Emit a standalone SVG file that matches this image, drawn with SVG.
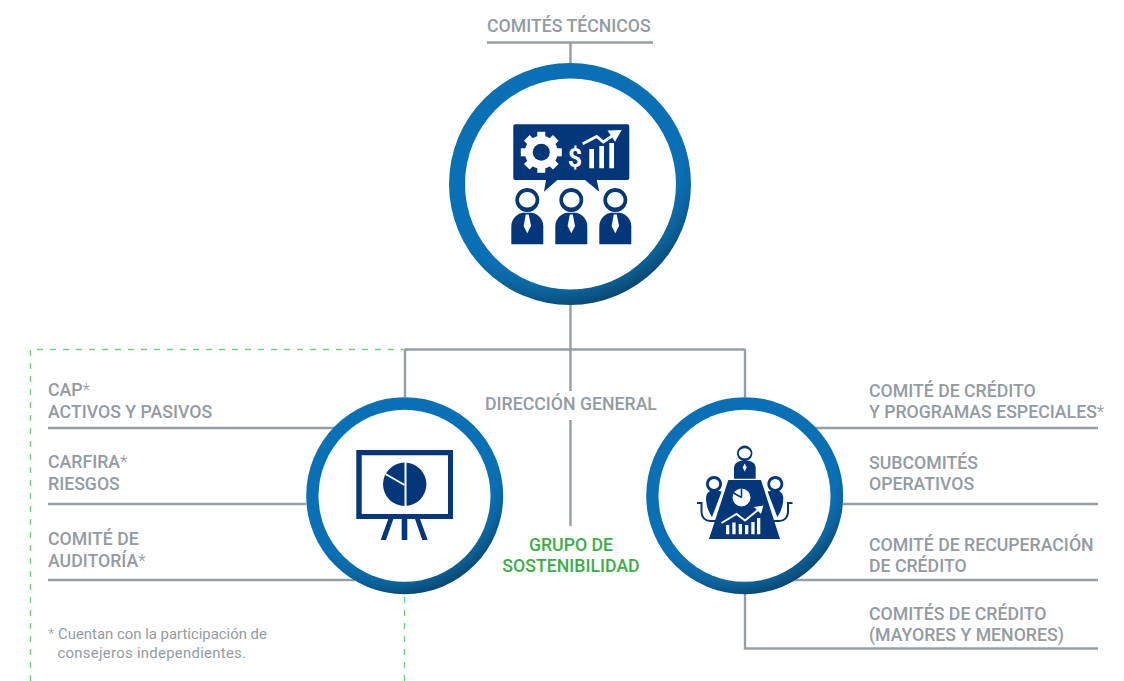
<svg xmlns="http://www.w3.org/2000/svg" xmlns:xlink="http://www.w3.org/1999/xlink" width="1124" height="681" viewBox="0 0 1124 681">
<style>
text{font-family:Roboto,"Liberation Sans",sans-serif;font-size:17.700px;font-weight:500;fill:#939ba2}
.g{fill:#3cae49}
.n{font-size:14.900px;font-weight:400}
.a{font-weight:300}
.l{fill:none;stroke:#969ea5;stroke-width:2.400}
.d{fill:none;stroke:#6fd085;stroke-width:1.400;stroke-dasharray:6 7}
.i{fill:#03377a}
.w{fill:#fff}
.ws{fill:none;stroke:#fff}
.is{fill:none;stroke:#03377a}
.ring{fill:url(#rg)}
.hole{fill:#fff}
</style>
<defs>
<radialGradient id="rg" cx="0.42" cy="0.33" r="0.7">
<stop offset="0.78" stop-color="#0a70b5"/>
<stop offset="0.87" stop-color="#0a659f"/>
<stop offset="1" stop-color="#0b4268"/>
</radialGradient>
<g id="person">
<path class="i" fill-rule="evenodd" d="M0-12a12 12 0 1 1-.01 0zM0-8a8.300 7.800 0 1 0 .01 0z"/>
<path class="i" d="M-16 44.300V26C-16 18-9 13-4 12.700H4C9 13 16 18 16 26V44.300z"/>
<path class="w" d="M-1.500 14.500H1.500L3.700 26 0 33.300-3.700 26z"/>
</g>
</defs>
<g id="connectors">
<path class="d" d="M30.500 681V349.500H405"/>
<path class="d" d="M404.500 597V681"/>
<path class="l" d="M487 42.500H653M570.500 42.500V63M570.500 305V391M570.500 420V526M405 349.500H745.500M405 349.500V397M745 349.500V397"/>
<path class="l" d="M48 428H335M48 504H306M48 580H355"/>
<path class="l" d="M815 428H1098M843 504H1098M790 580H1098M745 594V648.500H1098"/>
</g>
<g id="top-node">
<circle class="ring" cx="570" cy="184" r="121"/>
<circle class="hole" cx="570.500" cy="184" r="105.500"/>
<path class="i" d="M515.300 124.300H627.300a2 2 0 0 1 2 2V178a2 2 0 0 1-2 2H596.700L599.300 191.700 585 180H557.300L544 191.700 546 180H515.300a2 2 0 0 1-2-2V126.300a2 2 0 0 1 2-2z"/>
<g transform="translate(541.300 152.300)">
<circle class="w" r="16.500"/>
<g class="w"><rect x="-4" y="-20.500" width="8" height="41"/><rect x="-4" y="-20.500" width="8" height="41" transform="rotate(45)"/><rect x="-4" y="-20.500" width="8" height="41" transform="rotate(90)"/><rect x="-4" y="-20.500" width="8" height="41" transform="rotate(135)"/></g>
<circle class="i" r="8.500"/>
</g>
<text x="575" y="166.500" text-anchor="middle" style="font-size:25px;font-weight:700;fill:#fff">$</text>
<path class="w" d="M589.300 149H594V168.300H589.300zM599.300 146H604V168.300H599.300zM609.300 143H614V168.300H609.300z"/>
<path class="ws" stroke-width="2.800" d="M582.700 143.800L596.700 136.500 603.300 142 615 134"/>
<path class="w" d="M607.500 130.500L621.700 130 615 141.700z"/>
<use xlink:href="#person" href="#person" x="527.300" y="200"/>
<use xlink:href="#person" href="#person" x="571.300" y="200"/>
<use xlink:href="#person" href="#person" x="615.300" y="200"/>
</g>
<g id="left-node">
<circle class="ring" cx="404.700" cy="495.700" r="98.500"/>
<circle class="hole" cx="404.500" cy="495.800" r="86"/>
<path class="i" fill-rule="evenodd" d="M356.300 450H453V519H356.300zM361.700 455.300V514H448V455.300z"/>
<circle class="i" cx="404.700" cy="484.300" r="21.700"/>
<path class="ws" stroke-width="2" d="M405.500 462V507"/>
<path class="ws" stroke-width="2" d="M385.500 474L404.500 485"/>
<path class="i" d="M401.700 519H407.300V540H401.700zM388.300 519H393.300L386 540H380.700zM415 519H420L427.700 540H422.300z"/>
</g>
<g id="right-node">
<circle class="ring" cx="744.700" cy="495.700" r="98.500"/>
<circle class="hole" cx="744.500" cy="495.800" r="86"/>
<path class="i" d="M728.300 480H761L780 539H709z"/>
<path class="i" fill-rule="evenodd" d="M744.700 445.600a7.700 7.700 0 1 1-.01 0zM744.700 448.300a6 5 0 1 0 .01 0z"/>
<path class="i" d="M734 478.700V468C734 463 739 460.700 742 460.700H747.500C751 460.700 755.700 463 755.700 468V478.700z"/>
<path class="w" d="M744.700 463.500l2 4-2 4-2-4z"/>
<path class="i" fill-rule="evenodd" d="M714 476a8 8 0 1 1-.01 0zM714 479a5.200 5 0 1 0 .01 0z"/>
<path class="i" fill-rule="evenodd" d="M775.300 476a8 8 0 1 1-.01 0zM775.300 479a5.200 5 0 1 0 .01 0z"/>
<path class="i" d="M706 498C706 493 710 490 714 490L721.700 491.500 712 517C708.500 512 706 505 706 498z"/>
<path class="i" d="M783.300 498C783.300 493 779.300 490 775.300 490L767.600 491.500 777.300 517C780.800 512 783.300 505 783.300 498z"/>
<path class="is" stroke-width="2" d="M697 503H701.500V512C701.500 517 705 521 710 521H716"/>
<path class="is" stroke-width="2" d="M792.500 503H788V512C788 517 784.500 521 779.500 521H773.500"/>
<circle class="w" cx="741.500" cy="497.500" r="9"/>
<path class="is" stroke-width="1.600" d="M741.500 497.500V488.500M741.500 497.500L733.500 493"/>
<path class="ws" stroke-width="2" d="M721.500 523L736.500 514 745 520.500 758 510"/>
<path class="w" d="M754 507L763.500 505.500 761 514z"/>
<path class="w" d="M726 525H729.300V534.300H726zM732.300 522.500H735.600V534.300H732.300zM738.700 524H742V534.300H738.700zM745 525H748.300V534.300H745zM751.300 522H754.600V534.300H751.300zM757 518H760.300V534.300H757z"/>
</g>
<g id="labels">
<text x="487" y="32">COMITÉS TÉCNICOS</text>
<text x="485" y="410">DIRECCIÓN GENERAL</text>
<text class="g" x="571" y="551" text-anchor="middle">GRUPO DE</text>
<text class="g" x="571" y="572" text-anchor="middle">SOSTENIBILIDAD</text>
<text x="48" y="396">CAP<tspan class="a">*</tspan></text>
<text x="48" y="418">ACTIVOS Y PASIVOS</text>
<text x="48" y="468">CARFIRA<tspan class="a">*</tspan></text>
<text x="48" y="490">RIESGOS</text>
<text x="48" y="545">COMITÉ DE</text>
<text x="48" y="567">AUDITORÍA<tspan class="a">*</tspan></text>
<text class="n" x="48" y="639"><tspan class="a">*</tspan> Cuentan con la participación de</text>
<text class="n" x="57.500" y="658" textLength="188.500">consejeros independientes.</text>
<text x="869" y="397">COMITÉ DE CRÉDITO</text>
<text x="869" y="418">Y PROGRAMAS ESPECIALES<tspan class="a">*</tspan></text>
<text x="869" y="469">SUBCOMITÉS</text>
<text x="869" y="490">OPERATIVOS</text>
<text x="869" y="551">COMITÉ DE RECUPERACIÓN</text>
<text x="869" y="572">DE CRÉDITO</text>
<text x="869" y="620">COMITÉS DE CRÉDITO</text>
<text x="869" y="641">(MAYORES Y MENORES)</text>
</g>
</svg>
